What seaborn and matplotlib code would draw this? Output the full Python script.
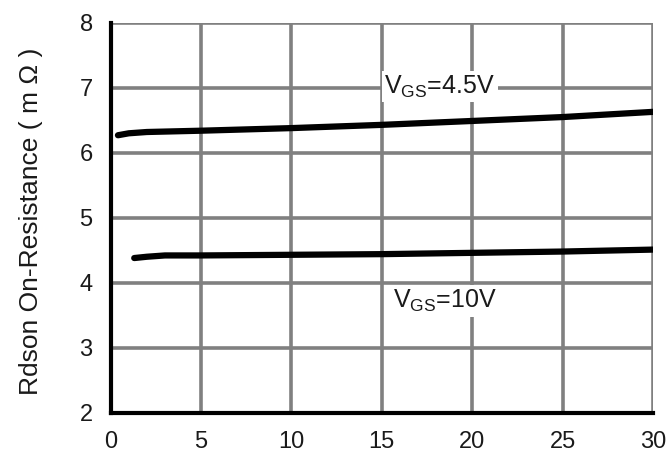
import matplotlib

matplotlib.use("Agg")

import matplotlib.pyplot as plt
import pandas as pd
import seaborn as sns

# drain current (A) vs on-resistance (mOhm)
current_45v = [0.4, 1.0, 2.0, 5.0, 10.0, 15.0, 20.0, 25.0, 30.0]
rdson_45v = [6.27, 6.30, 6.32, 6.34, 6.38, 6.43, 6.49, 6.55, 6.63]
current_10v = [1.3, 2.0, 3.0, 5.0, 10.0, 15.0, 20.0, 25.0, 30.0]
rdson_10v = [4.38, 4.40, 4.42, 4.42, 4.43, 4.44, 4.46, 4.48, 4.51]

x_ticks = [0, 5, 10, 15, 20, 25, 30]
y_ticks = [2, 3, 4, 5, 6, 7, 8]

sns.set_theme(style="white")
plt.rcParams["font.family"] = ["Liberation Sans", "DejaVu Sans"]

df = pd.concat(
    [
        pd.DataFrame({"current": current_45v, "rdson": rdson_45v, "vgs": "4.5V"}),
        pd.DataFrame({"current": current_10v, "rdson": rdson_10v, "vgs": "10V"}),
    ],
    ignore_index=True,
)

fig = plt.figure(figsize=(6.67, 4.57), dpi=100)
ax = fig.add_axes([0.166, 0.097, 0.813, 0.853])

sns.lineplot(
    data=df,
    x="current",
    y="rdson",
    units="vgs",
    estimator=None,
    color="black",
    linewidth=4.5,
    legend=False,
    ax=ax,
    zorder=3,
)

ax.set_xlim(0, 30)
ax.set_ylim(2, 8)
ax.set_xticks(x_ticks)
ax.set_yticks(y_ticks)
ax.grid(True, color="#808080", linewidth=2.6)
ax.set_axisbelow(True)

for side in ("top", "right"):
    ax.spines[side].set_visible(False)
for side in ("left", "bottom"):
    ax.spines[side].set_color("black")
    ax.spines[side].set_linewidth(3)

ax.tick_params(axis="both", length=0, labelsize=17, colors="#1a1a1a")
ax.tick_params(axis="x", pad=13)
ax.tick_params(axis="y", pad=13)
ax.set_xlabel("")
ax.set_ylabel("Rdson On-Resistance ( m Ω )", fontsize=19, color="#1a1a1a")
ax.yaxis.set_label_coords(-0.125, 0.49)

box = dict(facecolor="white", edgecolor="none", pad=2)
ax.text(18.2, 7.02, r"V$_{\mathregular{GS}}$=4.5V", fontsize=18, ha="center",
        va="center", color="#1a1a1a", bbox=box, zorder=4)
ax.text(18.5, 3.72, r"V$_{\mathregular{GS}}$=10V", fontsize=18, ha="center",
        va="center", color="#1a1a1a", bbox=box, zorder=4)

fig.savefig("out.png", dpi=100)
plt.close(fig)
